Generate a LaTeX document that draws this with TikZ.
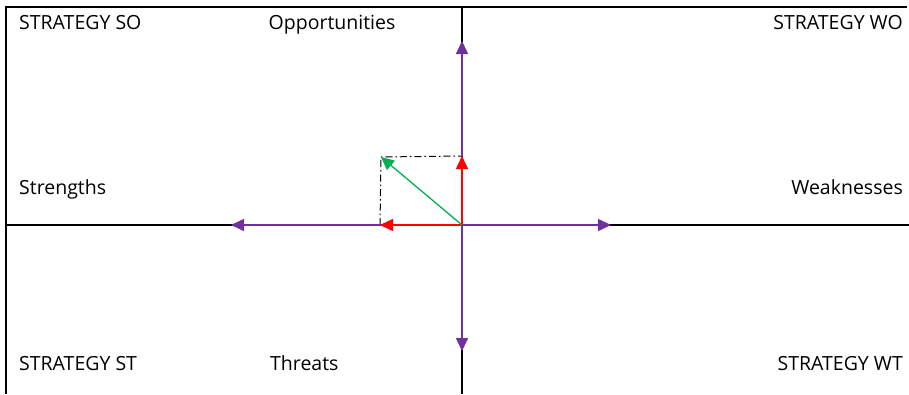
\documentclass[tikz,border=0pt]{standalone}
\usepackage{fontspec}
\setmainfont{Open Sans}
\usetikzlibrary{arrows.meta}
\definecolor{swotpurple}{HTML}{7030A0}
\definecolor{swotred}{HTML}{FF0000}
\definecolor{swotgreen}{HTML}{00B050}
\tikzset{
  label/.style={font=\fontsize{19.5}{22}\selectfont, inner sep=0pt},
  axis/.style={black, line width=1.1pt},
  vec/.style={line width=1.6pt, -{Triangle[length=13pt,width=12pt]}},
}
\begin{document}
\begin{tikzpicture}[x=1pt,y=-1pt]
      \useasboundingbox (0,0) rectangle (909,394);
      \coordinate (O) at (462,225);
      \coordinate (top) at (462,7);
      \coordinate (bottom) at (462,394);
      \coordinate (left) at (6,225);
      \coordinate (right) at (909,225);
      \coordinate (corner) at (6,7);
      \coordinate (topright) at (907,7);
      \coordinate (bottomleft) at (6,394);
      \coordinate (o) at (462,41);
      \coordinate (t) at (462,351);
      \coordinate (s) at (231,225);
      \coordinate (w) at (611,225);
      \coordinate (ro) at (462,156);
      \coordinate (rs) at (380,225);
      \coordinate (g) at (381,157);
      \draw
        (19,29) node[label, anchor=base west] (so){STRATEGY SO}
        (332,29) node[label, anchor=base] (opp){Opportunities}
        (903,29) node[label, anchor=base east] (wo){STRATEGY WO}
        (19,194) node[label, anchor=base west] (str){Strengths}
        (903,194) node[label, anchor=base east] (weak){Weaknesses}
        (19,370) node[label, anchor=base west] (st){STRATEGY ST}
        (270,370) node[label, anchor=base west] (thr){Threats}
        (903,370) node[label, anchor=base east] (wt){STRATEGY WT};
      \begin{scope}[axis]
        \draw (bottomleft) -- (corner) -- (topright);
        \draw (top) -- (bottom);
        \draw (left) -- (right);
      \end{scope}
      \draw[black, line width=1pt, dash pattern=on 7pt off 3pt on 1.5pt off 3pt] (rs) -- (g) -- (ro);
      \begin{scope}[vec, swotpurple]
        \draw (O) to (o);
        \draw (O) to (t);
        \draw (O) to (s);
        \draw (O) to (w);
      \end{scope}
      \begin{scope}[vec, swotred]
        \draw (O) to (ro);
        \draw (O) to (rs);
      \end{scope}
      \draw[vec, swotgreen, line width=1.3pt] (O) to (g);
    \end{tikzpicture}
\end{document}
